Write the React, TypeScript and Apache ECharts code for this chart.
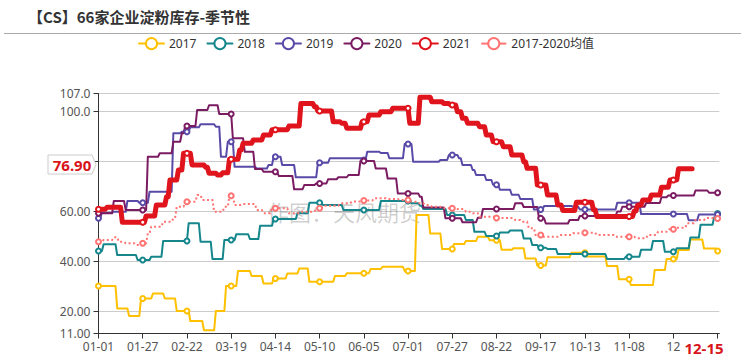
import React, { useEffect, useRef } from "react";
import * as echarts from "echarts";

// ---- data (change points: [MM-DD, value]; each weekly value holds until the next one) ----
const MONTH_DAYS = [31, 29, 31, 30, 31, 30, 31, 31, 30, 31, 30, 31];
const categories: string[] = [];
MONTH_DAYS.forEach((n, m) => {
  for (let d = 1; d <= n; d++) categories.push(`${String(m + 1).padStart(2, "0")}-${String(d).padStart(2, "0")}`);
});

const yTicksHidden = [80];
const lastDate2021 = "12-15";

const y2017: [string, number][] = [
  ["01-01", 30], ["01-12", 21], ["01-19", 18], ["01-26", 25], ["02-02", 27], ["02-09", 25], ["02-16", 20],
  ["02-24", 16], ["03-03", 12.3], ["03-10", 20], ["03-16", 30], ["03-23", 36], ["03-31", 34], ["04-07", 31],
  ["04-13", 33], ["04-21", 35], ["04-28", 37], ["05-04", 31.7], ["05-19", 34], ["05-26", 35.1], ["06-09", 36.8],
  ["06-16", 37.7], ["06-29", 36], ["07-06", 58.4], ["07-14", 51], ["07-21", 44.8], ["07-28", 46.8], ["08-04", 48],
  ["08-11", 49.7], ["08-18", 48.3], ["08-25", 44.5], ["09-01", 45.1], ["09-08", 41], ["09-15", 38.2], ["09-21", 41.5],
  ["10-05", 43.3], ["10-14", 41.8], ["10-26", 38], ["11-02", 32.7], ["11-09", 30.4], ["11-23", 36.4], ["11-30", 40.8],
  ["12-07", 44.4], ["12-14", 48.6], ["12-22", 45], ["12-30", 44],
];

const y2018: [string, number][] = [
  ["01-01", 44], ["01-04", 46.7], ["01-12", 42.4], ["01-24", 40.4], ["02-01", 41.7], ["02-08", 48], ["02-23", 55.1],
  ["03-01", 47.7], ["03-08", 40.8], ["03-15", 48.4], ["03-22", 50.7], ["03-30", 48.8], ["04-05", 54.1], ["04-13", 56.8],
  ["04-27", 59.1], ["05-04", 63.3], ["05-12", 62.4], ["05-24", 60.4], ["06-15", 64], ["07-03", 63.1], ["07-08", 62.1],
  ["07-10", 60.8], ["07-24", 58.4], ["08-04", 56.4], ["08-09", 51.7], ["08-16", 50], ["08-24", 51.4], ["08-30", 52.2],
  ["09-07", 49], ["09-12", 46.4], ["09-16", 45.3], ["09-21", 44.8], ["09-27", 42.8], ["10-26", 40.8], ["11-06", 41.7],
  ["11-15", 44.5], ["11-22", 48], ["11-29", 43.7], ["12-06", 45.1], ["12-14", 49.4], ["12-20", 54.5], ["12-28", 57.5],
  ["12-30", 59],
];

const y2019: [string, number][] = [
  ["01-01", 57.1], ["01-03", 59.3], ["01-10", 59.7], ["01-18", 64], ["01-25", 63.3], ["01-31", 67.7], ["02-14", 91.1],
  ["02-19", 91.7], ["02-24", 93.5], ["03-01", 94.7], ["03-10", 93.7], ["03-13", 81.7], ["03-17", 87.7], ["03-21", 77.7],
  ["04-03", 77], ["04-10", 78.4], ["04-13", 81.7], ["04-18", 78.4], ["04-26", 73.5], ["05-09", 79.3], ["05-16", 81.1],
  ["06-05", 80.4], ["06-07", 83.7], ["06-15", 83.2], ["06-20", 81.1], ["06-29", 86.8], ["07-04", 79.7], ["07-20", 80.4],
  ["07-25", 82.4], ["07-31", 81.1], ["08-02", 78.4], ["08-08", 76.4], ["08-10", 74.4], ["08-16", 72.4], ["08-20", 70.5],
  ["08-24", 68.5], ["08-31", 66.5], ["09-05", 64.8], ["09-13", 60.6], ["09-19", 62], ["10-06", 61.7], ["10-10", 60.6],
  ["11-01", 63.3], ["11-15", 58.8], ["12-13", 56.3], ["12-19", 58.6],
];

const y2020: [string, number][] = [
  ["01-01", 59.1], ["01-10", 64], ["01-17", 60.4], ["01-30", 81.7], ["02-06", 83.1], ["02-14", 87.7], ["02-19", 91.1],
  ["02-21", 94], ["02-28", 100.4], ["03-06", 102.3], ["03-12", 98.8], ["03-20", 89.1], ["03-27", 83.7], ["04-02", 76.8],
  ["04-07", 75.7], ["04-16", 74], ["04-25", 68.7], ["05-01", 70.4], ["05-08", 71], ["05-15", 72.7], ["05-21", 73.5],
  ["05-27", 74.4], ["06-03", 80], ["06-12", 77], ["06-19", 73], ["06-25", 67], ["07-08", 65.7], ["07-10", 61.4],
  ["07-23", 57.1], ["08-02", 55.5], ["08-11", 57.3], ["08-14", 60.8], ["09-02", 63.1], ["09-07", 61.6], ["09-16", 57.1],
  ["09-20", 55], ["10-04", 56.4], ["10-10", 58], ["11-01", 59.8], ["11-04", 61.7], ["11-18", 63.2], ["11-27", 65.5],
  ["12-01", 66.2], ["12-17", 68.2], ["12-25", 67.3],
];

const y2021: [string, number][] = [
  ["01-01", 60.7], ["01-06", 61.5], ["01-15", 55.5], ["01-29", 58], ["02-04", 62.4], ["02-10", 65.7], ["02-12", 72.4],
  ["02-17", 76.4], ["02-20", 83.1], ["02-25", 78.4], ["03-04", 77.5], ["03-06", 75.1], ["03-11", 74.4], ["03-14", 75.3],
  ["03-18", 80.7], ["03-24", 84.4], ["03-26", 87.1], ["04-01", 88.4], ["04-07", 90.4], ["04-12", 92.5], ["04-22", 94],
  ["04-29", 103], ["05-07", 101.7], ["05-09", 100], ["05-18", 95.7], ["05-23", 95.1], ["05-26", 93.1], ["06-04", 95.7],
  ["06-08", 98.4], ["06-15", 99.7], ["06-22", 101.1], ["07-02", 95.1], ["07-08", 105.5], ["07-15", 103.7], ["07-22", 103],
  ["07-26", 102.4], ["07-30", 99.7], ["08-02", 97.1], ["08-05", 95.1], ["08-12", 93.7], ["08-16", 90.4], ["08-20", 87.7],
  ["08-26", 85.7], ["08-31", 82.4], ["09-07", 79.7], ["09-09", 77.1], ["09-15", 70.4], ["09-21", 66.4], ["09-27", 62.4],
  ["09-30", 60.2], ["10-08", 63.5], ["10-18", 60.5], ["10-20", 57.8], ["11-11", 60], ["11-13", 62.4], ["11-16", 64.4],
  ["11-21", 66.4], ["11-27", 69.5], ["12-02", 72.4], ["12-07", 76.9],
];

const yAvg: [string, number][] = [
  ["01-01", 47.7], ["01-04", 48.4], ["01-10", 49.5], ["01-13", 47.7], ["01-17", 47.1], ["01-23", 46.4], ["01-27", 47.1],
  ["01-30", 51.1], ["02-01", 53.7], ["02-08", 55.7], ["02-14", 57.1], ["02-16", 61.7], ["02-21", 63.7], ["02-28", 66.4],
  ["03-02", 64.4], ["03-09", 59.7], ["03-15", 61.7], ["03-18", 66.1], ["03-21", 62.4], ["03-26", 62.8], ["04-03", 60.4],
  ["04-07", 59.1], ["04-12", 61.1], ["04-22", 59.1], ["04-30", 59.7], ["05-08", 61.1], ["05-12", 62.1], ["05-22", 63.1],
  ["05-29", 63.8], ["06-05", 64.2], ["06-11", 65.1], ["06-19", 64.8], ["06-26", 64.4], ["07-03", 63.7], ["07-07", 63.1],
  ["07-11", 62.4], ["07-15", 61.7], ["07-21", 61.1], ["07-30", 60.8], ["08-04", 59.7], ["08-08", 59.1], ["08-12", 57.7],
  ["08-22", 57.2], ["09-02", 56.4], ["09-06", 55.7], ["09-10", 53.1], ["09-14", 50.4], ["09-18", 49.7], ["09-28", 50.4],
  ["10-06", 51.1], ["10-13", 51.3], ["10-20", 50.4], ["10-31", 49.7], ["11-12", 49.1], ["11-19", 50.4], ["11-25", 51.7],
  ["12-01", 52.7], ["12-06", 53.3], ["12-12", 55.1], ["12-17", 56.4], ["12-23", 57.2], ["12-30", 57],
];

const seriesNames = ["2017", "2018", "2019", "2020", "2021", "2017-2020均值"];
const seriesColors = ["#FFC000", "#14868C", "#5A4AA8", "#7B1C63", "#E0141C", "#FF7373"];

// forward-fill the weekly values onto the daily category axis
function expand(points: [string, number][], endDate = "12-31"): (number | null)[] {
  const out: (number | null)[] = categories.map(() => null);
  const endIdx = categories.indexOf(endDate);
  let p = 0;
  let cur: number | null = null;
  for (let i = 0; i <= endIdx; i++) {
    while (p < points.length && categories.indexOf(points[p][0]) <= i) {
      cur = points[p][1];
      p++;
    }
    out[i] = cur;
  }
  return out;
}

const FONT = '"Noto Sans", "Noto Sans CJK SC", sans-serif';
const RED = "#D9141B";

export default function App() {
  const ref = useRef<HTMLDivElement>(null);

  useEffect(() => {
    if (!ref.current) return;
    const chart = echarts.init(ref.current, null, { renderer: "svg" });
    const raw = [y2017, y2018, y2019, y2020, y2021, yAvg];
    const lastValue = y2021[y2021.length - 1][1];

    const series: any[] = raw.map((pts, i) => {
      const isRed = i === 4;
      const isAvg = i === 5;
      return {
        name: seriesNames[i],
        type: "line",
        data: expand(pts, isRed ? lastDate2021 : "12-31"),
        symbol: "emptyCircle",
        symbolSize: 5,
        showSymbol: true,
        color: seriesColors[i],
        z: isRed ? 4 : 2,
        lineStyle: {
          width: isRed ? 5 : 2,
          type: isAvg ? [2, 2.5] : "solid",
          color: seriesColors[i],
          join: isAvg ? "miter" : "round",
          cap: isAvg ? "butt" : "round",
        },
        itemStyle: { color: seriesColors[i], borderWidth: isRed ? 1.5 : 1 },
        emphasis: { disabled: true },
      };
    });

    chart.setOption({
      animation: false,
      textStyle: { fontFamily: FONT },
      title: {
        text: "【CS】66家企业淀粉库存-季节性",
        left: 23,
        top: 4,
        textStyle: { fontSize: 15, fontWeight: "bold", color: "#333", fontFamily: '"Noto Sans CJK SC", sans-serif' },
      },
      legend: {
        top: 32,
        left: 133,
        itemWidth: 25,
        itemHeight: 14,
        itemGap: 10,
        textStyle: { fontSize: 12, color: "#333", fontFamily: FONT },
        data: seriesNames.map((n, i) => ({
          name: n,
          lineStyle: { type: "solid", width: 2, color: seriesColors[i] },
        })),
      },
      grid: { left: 98.5, right: 27.7, top: 93.5, bottom: 27.5, containLabel: false },
      xAxis: {
        type: "category",
        data: categories,
        boundaryGap: false,
        axisLine: { lineStyle: { color: "#333" } },
        axisTick: { interval: 25, length: 5, lineStyle: { color: "#333" } },
        axisLabel: {
          interval: 25,
          color: "#555",
          fontSize: 12,
          margin: 7,
          fontFamily: FONT,
          formatter: (v: string) => (v === "12-30" ? "" : v === "12-04" ? "12" : v),
        },
        splitLine: { show: false },
      },
      yAxis: {
        type: "value",
        min: 11,
        max: 107,
        splitNumber: 5,
        axisLine: { show: true, lineStyle: { color: "#333" } },
        axisTick: { show: true, length: 5, lineStyle: { color: "#333" } },
        axisLabel: {
          color: "#555",
          fontSize: 12,
          fontFamily: FONT,
          formatter: (v: number) => (yTicksHidden.includes(v) ? "" : v >= 100 ? v.toFixed(1) : v.toFixed(2)),
        },
        splitLine: { show: true, lineStyle: { color: "#ccc", width: 1 } },
      },
      graphic: [
        { type: "line", silent: true, shape: { x1: 4, y1: 33.5, x2: 741, y2: 33.5 }, style: { stroke: "#aaa", lineWidth: 1 } },
        {
          type: "text", silent: true, z: 1, x: 344, y: 211,
          style: { text: "作图：天风期货", fill: "rgba(0,0,0,0.2)", fontSize: 22, fontFamily: '"Noto Sans CJK SC", sans-serif', align: "center", verticalAlign: "middle", textAlign: "center", textVerticalAlign: "middle" },
        },
        {
          type: "polygon", silent: true, z: 100,
          shape: { points: [[48, 155], [92, 155], [96, 164.5], [92, 174], [48, 174]] },
          style: { fill: "#fff", stroke: "#ccc", lineWidth: 1 },
        },
        {
          type: "text", silent: true, z: 101, x: 72, y: 164.5,
          style: { text: lastValue.toFixed(2), fill: RED, fontSize: 15, fontWeight: "bold", fontFamily: FONT, align: "center", verticalAlign: "middle", textAlign: "center", textVerticalAlign: "middle" },
        },
        {
          type: "text", silent: true, z: 101, x: 704, y: 348,
          style: { text: lastDate2021, fill: RED, fontSize: 15, fontWeight: "bold", fontFamily: FONT, align: "center", verticalAlign: "middle", textAlign: "center", textVerticalAlign: "middle" },
        },
      ],
      series,
    });

    return () => chart.dispose();
  }, []);

  return <div ref={ref} style={{ position: "fixed", left: 0, top: 0, width: 747, height: 361, background: "#fff" }} />;
}
